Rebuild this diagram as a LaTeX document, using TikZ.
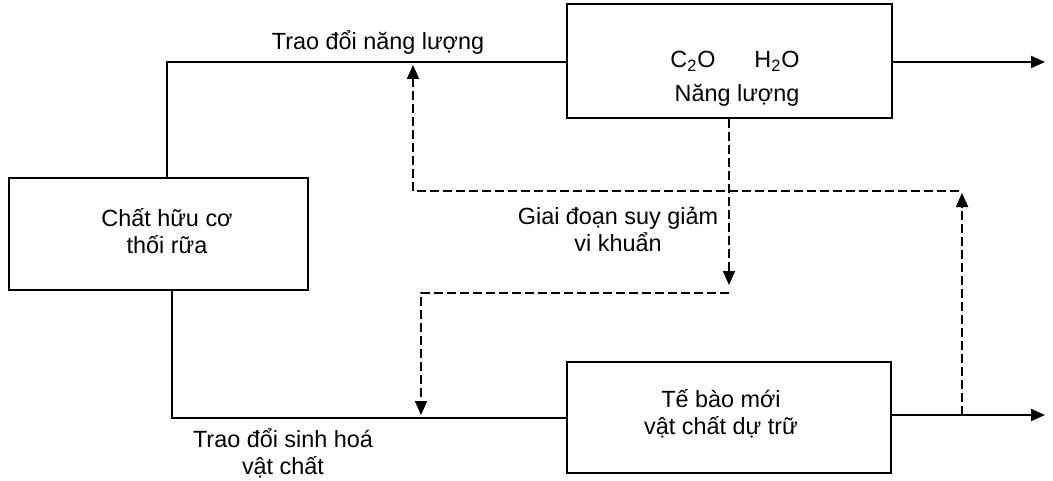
\documentclass[tikz,border=0pt]{standalone}
\usepackage{fontspec}
\setmainfont{Liberation Sans}
\usetikzlibrary{arrows.meta}
\begin{document}
\begin{tikzpicture}[x=0.5pt,y=-0.5pt,
  box/.style={draw, line width=1pt, inner sep=0pt, rectangle},
  lbl/.style={inner sep=0pt, align=center, font=\fontsize{11.7pt}{13.5pt}\selectfont},
  flow/.style={line width=1pt},
  tip/.style={-{Triangle[length=7pt,width=6pt]}},
  dashline/.style={line width=0.9pt, dash pattern=on 4.5pt off 2pt}
]
\useasboundingbox (0,0) rectangle (1053,481);

% boxes
\node[box, minimum width=162.5pt, minimum height=56.5pt] (topbox) at (729.5,61) {};
\node[box, minimum width=149.5pt, minimum height=56pt] (srcbox) at (158.5,234) {};
\node[box, minimum width=162pt, minimum height=55.5pt] (cellbox) at (729,417.5) {};

% box texts
\node[lbl, anchor=base] (co) at (693,68) {C\textsubscript{2}O};
\node[lbl, anchor=base] (ho) at (777,68) {H\textsubscript{2}O};
\node[lbl, anchor=base] (nl) at (737,102) {Năng lượng};
\node[lbl] (srctxt) at (167,231) {Chất hữu cơ\\thối rữa};
\node[lbl] (celltxt) at (721,414) {Tế bào mới\\vật chất dự trữ};

% path labels
\node[lbl, anchor=base] (lbltop) at (378,50) {Trao đổi năng lượng};
\node[lbl] (lblmid) at (618,229) {Giai đoạn suy giảm\\vi khuẩn};
\node[lbl] (lblbot) at (283,453) {Trao đổi sinh hoá\\vật chất};

% corner and end points
\coordinate (tl) at (167,62);
\coordinate (bl) at (172,418);
\coordinate (outtop) at (1045,62);
\coordinate (outbot) at (1045,415);
\coordinate (rise) at (962,415);
\coordinate (risetop) at (962,193);
\coordinate (ret) at (959,191);
\coordinate (retcorner) at (413,191);
\coordinate (rettop) at (413,65);
\coordinate (drop) at (729,285);
\coordinate (dropline) at (729,293);
\coordinate (dropcorner) at (421,293);
\coordinate (dropend) at (421,415);

% solid flows
\draw[flow] (tl |- srcbox.north) -- (tl) -- (tl -| topbox.west);
\draw[flow, tip] (topbox.east |- tl) -- (outtop);
\draw[flow] (bl |- srcbox.south) -- (bl) -- (bl -| cellbox.west);
\draw[flow, tip] (cellbox.east |- outbot) -- (outbot);

% dashed feedback
\draw[dashline, tip] (rise) -- (risetop);
\draw[dashline, tip] (ret) -- (retcorner) -- (rettop);
\draw[dashline, tip] (topbox.south -| drop) -- (drop);
\draw[dashline, tip] (dropline) -- (dropcorner) -- (dropend);
\end{tikzpicture}
\end{document}
